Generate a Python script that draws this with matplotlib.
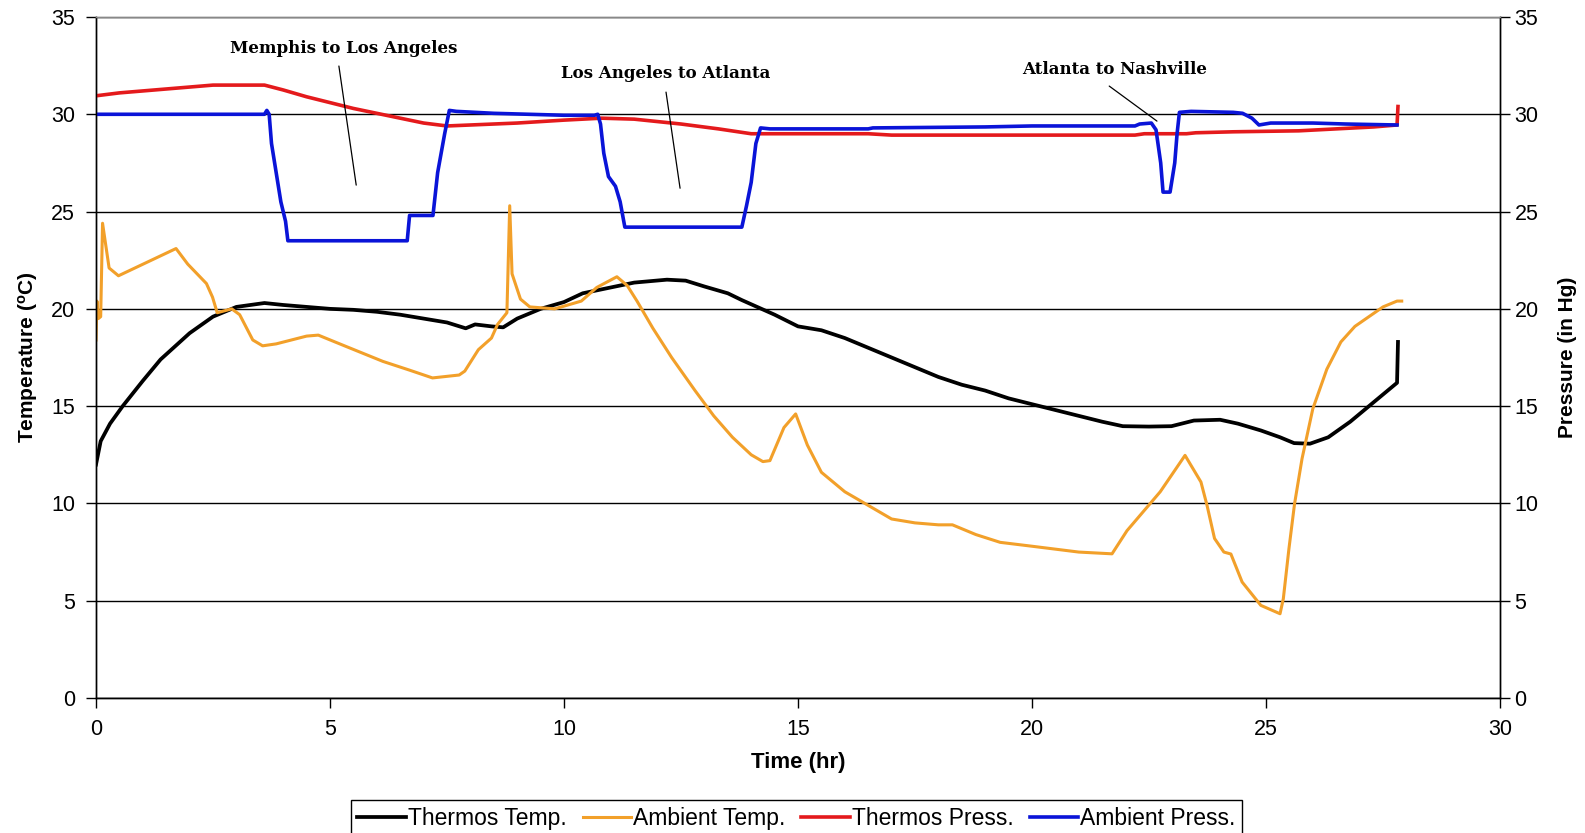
import matplotlib
matplotlib.use("Agg")
import matplotlib.pyplot as plt

plt.rcParams['font.family'] = ['Liberation Sans', 'DejaVu Sans']

# Thermos temperature (deg C)
thermos_t_x = [0, 0.1, 0.3, 0.57, 1.0, 1.38, 2.0, 2.5, 3.0, 3.6, 4.0, 4.5, 5.0, 5.5, 6.0, 6.5,
               7.0, 7.5, 7.9, 8.1, 8.45, 8.7, 9.0, 9.5, 10.0, 10.4, 11.0, 11.5, 12.2, 12.6,
               13.0, 13.5, 13.8, 14.5, 15.0, 15.5, 16.0, 16.5, 17.0, 17.5, 18.0, 18.5, 19.0,
               19.5, 20.0, 20.5, 21.0, 21.5, 21.94, 22.5, 22.98, 23.46, 24.02, 24.4, 24.89,
               25.3, 25.6, 25.94, 26.33, 26.8, 27.3, 27.8, 27.82]
thermos_t_y = [12.0, 13.2, 14.1, 15.0, 16.3, 17.4, 18.75, 19.6, 20.1, 20.3, 20.2, 20.1, 20.0, 19.95,
               19.85, 19.7, 19.5, 19.3, 19.0, 19.2, 19.1, 19.05, 19.5, 20.0, 20.35, 20.8, 21.1,
               21.35, 21.5, 21.45, 21.15, 20.8, 20.45, 19.7, 19.1, 18.9, 18.5, 18.0, 17.5, 17.0,
               16.5, 16.1, 15.8, 15.4, 15.1, 14.8, 14.5, 14.2, 13.97, 13.95, 13.97, 14.26, 14.3,
               14.1, 13.75, 13.4, 13.1, 13.07, 13.4, 14.2, 15.2, 16.2, 18.3]

# Ambient temperature (deg C)
ambient_t_x = [0, 0.02, 0.05, 0.1, 0.14, 0.28, 0.48, 1.71, 1.96, 2.36, 2.49, 2.59, 2.9, 3.07,
               3.35, 3.56, 3.85, 4.5, 4.75, 5.31, 6.13, 6.7, 7.19, 7.76, 7.88, 8.17, 8.45, 8.58,
               8.78, 8.84, 8.89, 9.07, 9.27, 9.8, 10.37, 10.7, 11.13, 11.35, 11.56, 11.9, 12.3,
               12.8, 13.2, 13.6, 14.0, 14.25, 14.4, 14.7, 14.95, 15.2, 15.5, 16.0, 16.5, 17.0,
               17.5, 18.0, 18.3, 18.8, 19.32, 20.0, 21.0, 21.71, 22.03, 22.74, 23.27, 23.61,
               23.74, 23.9, 24.1, 24.25, 24.49, 24.89, 25.3, 25.37, 25.49, 25.61, 25.77, 26.0,
               26.3, 26.6, 26.9, 27.2, 27.5, 27.8, 27.9]
ambient_t_y = [18.4, 20.4, 19.5, 19.6, 24.4, 22.1, 21.7, 23.1, 22.3, 21.3, 20.6, 19.8, 20.0, 19.7,
               18.4, 18.1, 18.2, 18.6, 18.65, 18.1, 17.3, 16.85, 16.45, 16.6, 16.8, 17.9, 18.5,
               19.2, 19.8, 25.3, 21.8, 20.5, 20.1, 20.0, 20.4, 21.1, 21.65, 21.2, 20.4, 19.0,
               17.5, 15.8, 14.5, 13.4, 12.5, 12.15, 12.2, 13.9, 14.6, 13.0, 11.6, 10.6, 9.9, 9.2,
               9.0, 8.9, 8.9, 8.4, 8.0, 7.8, 7.5, 7.41, 8.6, 10.6, 12.47, 11.1, 9.9, 8.2, 7.5,
               7.4, 5.96, 4.76, 4.33, 5.1, 7.67, 9.98, 12.3, 14.86, 16.9, 18.3, 19.1, 19.6, 20.1,
               20.4, 20.4]

# Thermos pressure (in Hg)
thermos_p_x = [0, 0.5, 1.0, 1.5, 2.0, 2.5, 3.6, 4.0, 4.5, 5.0, 5.5, 6.0, 6.5, 7.0, 7.5, 8.0,
               9.0, 10.0, 10.8, 11.5, 12.5, 13.3, 14.0, 16.5, 17.0, 22.2, 22.4, 23.3, 23.5,
               24.3, 25.7, 26.5, 27.3, 27.8, 27.82]
thermos_p_y = [30.95, 31.1, 31.2, 31.3, 31.4, 31.5, 31.5, 31.25, 30.9, 30.6, 30.3, 30.05, 29.8,
               29.55, 29.4, 29.45, 29.55, 29.7, 29.8, 29.75, 29.5, 29.25, 29.0, 29.0, 28.93,
               28.93, 29.0, 29.0, 29.05, 29.1, 29.15, 29.25, 29.35, 29.45, 30.4]

# Ambient pressure (in Hg)
ambient_p_x = [0, 3.6, 3.65, 3.7, 3.75, 3.85, 3.95, 4.05, 4.1, 6.65, 6.7, 7.2, 7.3, 7.45, 7.55,
               7.7, 8.5, 10.0, 10.65, 10.72, 10.78, 10.85, 10.95, 11.1, 11.2, 11.3, 13.8, 13.9,
               14.0, 14.1, 14.2, 14.4, 16.5, 16.6, 19.0, 20.0, 22.2, 22.3, 22.55, 22.65, 22.75,
               22.8, 22.95, 23.05, 23.1, 23.15, 23.4, 24.3, 24.5, 24.7, 24.85, 25.1, 26.0, 26.7,
               27.8]
ambient_p_y = [30.0, 30.0, 30.2, 30.0, 28.5, 27.0, 25.5, 24.5, 23.5, 23.5, 24.8, 24.8, 27.0, 29.0,
               30.2, 30.15, 30.05, 29.95, 29.95, 30.0, 29.5, 28.0, 26.8, 26.3, 25.5, 24.2, 24.2,
               25.3, 26.5, 28.5, 29.3, 29.25, 29.25, 29.3, 29.35, 29.4, 29.4, 29.5, 29.55, 29.2,
               27.5, 26.0, 26.0, 27.5, 29.0, 30.1, 30.15, 30.1, 30.05, 29.8, 29.45, 29.55, 29.55,
               29.5, 29.45]

notes = ["Memphis to Los Angeles", "Los Angeles to Atlanta", "Atlanta to Nashville"]
note_text_xy = [(5.3, 33.4), (12.18, 32.1), (21.77, 32.3)]
note_line_from = [(5.19, 32.48), (12.18, 31.14), (21.65, 31.45)]
note_line_to = [(5.56, 26.36), (12.48, 26.2), (22.67, 29.65)]

W, H = 1585, 833
fig = plt.figure(figsize=(W / 100, H / 100), dpi=100)
ax = fig.add_axes([96 / W, 1 - 698 / H, (1500 - 96) / W, (698 - 17) / H])
ax2 = ax.twinx()

l1, = ax.plot(thermos_t_x, thermos_t_y, color='black', lw=2.7, label='Thermos Temp.')
l2, = ax.plot(ambient_t_x, ambient_t_y, color='#F2A02A', lw=2.2, label='Ambient Temp.')
l3, = ax2.plot(thermos_p_x, thermos_p_y, color='#E41A1C', lw=2.6, label='Thermos Press.')
l4, = ax2.plot(ambient_p_x, ambient_p_y, color='#0A14D8', lw=2.6, label='Ambient Press.')

for a in (ax, ax2):
    a.set_xlim(0, 30)
    a.set_ylim(0, 35)
    a.set_yticks(range(0, 36, 5))
    a.tick_params(labelsize=15.5, length=7, width=1, direction='out', color='black')
    for s in a.spines.values():
        s.set_color('black')
        s.set_linewidth(1)
    a.spines['top'].set_color('#888888')

ax.set_xticks(range(0, 31, 5))
ax.tick_params(axis='x', pad=8)
ax.tick_params(axis='y', pad=8)
ax.yaxis.grid(True, color='black', lw=1)
ax.set_axisbelow(True)

ax.set_xlabel('Time (hr)', fontsize=16, fontweight='bold', labelpad=9)
ax.set_ylabel('Temperature ($\\mathregular{^o}$C)', fontsize=15, fontweight='bold', labelpad=8)
ax2.set_ylabel('Pressure (in Hg)', fontsize=15, fontweight='bold', labelpad=14)

for txt, pos, p0, p1 in zip(notes, note_text_xy, note_line_from, note_line_to):
    ax2.text(pos[0], pos[1], txt, ha='center', va='center', fontsize=12,
             fontweight='bold', family='DejaVu Serif')
    ax2.annotate('', xy=p1, xytext=p0,
                 arrowprops=dict(arrowstyle='-', color='black', lw=0.9,
                                 shrinkA=0, shrinkB=0))

fig.legend([l1, l2, l3, l4], [h.get_label() for h in (l1, l2, l3, l4)],
           loc='upper center', bbox_to_anchor=(0.5025, 1 - 800 / H), ncol=4,
           fontsize=16.5, frameon=True, fancybox=False, edgecolor='black',
           framealpha=1, handlelength=2.1, handletextpad=0.1, columnspacing=0.7,
           borderpad=0.3, borderaxespad=0)

fig.savefig('out.png', dpi=100)
